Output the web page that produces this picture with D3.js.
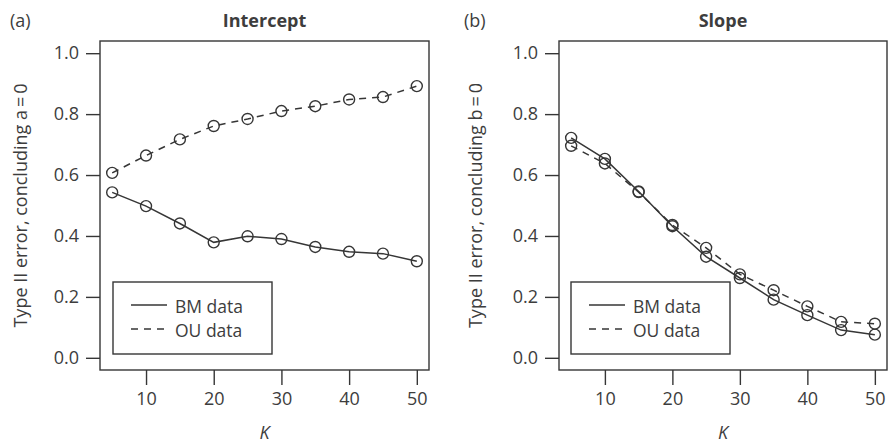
<!DOCTYPE html>
<html>
  <head>
    <meta charset="utf-8">
    <title>Type II error vs K</title>
    <script src="https://cdn.jsdelivr.net/npm/d3@7"></script>
    <style>
      body { margin: 0; background: #fff; }
      text { font-family: "Open Sans", "Noto Sans", sans-serif; fill: #3d3d3d; }
    </style>
  </head>
  <body>
    <script>
     // data ------------------------------------------------------------
     let kValues = [5, 10, 15, 20, 25, 30, 35, 40, 45, 50];
     let xTicks = [10, 20, 30, 40, 50];
     let yTicks = [0, 0.2, 0.4, 0.6, 0.8, 1.0];
     let seriesNames = ["BM data", "OU data"];

     let interceptBM = [0.543, 0.498, 0.441, 0.379, 0.399, 0.390, 0.364, 0.348, 0.342, 0.317];
     let interceptOU = [0.607, 0.664, 0.717, 0.761, 0.784, 0.810, 0.826, 0.848, 0.856, 0.892];
     let slopeBM = [0.722, 0.653, 0.546, 0.432, 0.332, 0.262, 0.191, 0.140, 0.091, 0.076];
     let slopeOU = [0.696, 0.638, 0.544, 0.436, 0.361, 0.274, 0.222, 0.169, 0.118, 0.112];

     // canvas ----------------------------------------------------------
     let w = 889, h = 444;
     let ink = "#363636";
     let fs = 18;

     let svg = d3.select("body").append("svg")
                 .attr("width", w)
                 .attr("height", h)
                 .style("display", "block");

     function drawPanel(opts) {
       let box = opts.box;  // left, top, right, bottom of the plot frame
       let xScale = d3.scaleLinear()
                      .domain([3.2, 51.8])
                      .range([box.left, box.right]);
       let yScale = d3.scaleLinear()
                      .domain([-0.04, 1.04])
                      .range([box.bottom, box.top]);

       let g = svg.append("g");

       // frame
       g.append("rect")
        .attr("x", box.left)
        .attr("y", box.top)
        .attr("width", box.right - box.left)
        .attr("height", box.bottom - box.top)
        .attr("fill", "none")
        .attr("stroke", ink)
        .attr("stroke-width", 1.4);

       // axes (R style: ticks only, the frame acts as axis line)
       let xAxis = d3.axisBottom(xScale)
                     .tickValues(xTicks)
                     .tickSize(15)
                     .tickPadding(7)
                     .tickFormat(d3.format("d"));
       let gx = g.append("g")
                 .attr("transform", "translate(0, " + box.bottom + ")")
                 .call(xAxis);
       let yAxis = d3.axisLeft(yScale)
                     .tickValues(yTicks)
                     .tickSize(14)
                     .tickPadding(7)
                     .tickFormat(d3.format(".1f"));
       let gy = g.append("g")
                 .attr("transform", "translate(" + box.left + ", 0)")
                 .call(yAxis);
       [gx, gy].forEach((a) => {
         a.select(".domain").remove();
         a.selectAll(".tick line").attr("stroke", ink).attr("stroke-width", 1.4);
         a.selectAll(".tick text")
          .attr("font-size", fs)
          .attr("fill", "#3d3d3d")
          .style("font-family", "'Open Sans', sans-serif");
       });

       // series
       let line = d3.line()
                    .x((d, i) => xScale(kValues[i]))
                    .y((d) => yScale(d));
       opts.series.forEach((s, si) => {
         g.append("path")
          .datum(s)
          .attr("d", line)
          .attr("fill", "none")
          .attr("stroke", ink)
          .attr("stroke-width", 1.5)
          .attr("stroke-dasharray", si === 1 ? "7,6" : null);
         g.selectAll(".pt" + si)
          .data(s)
          .enter()
          .append("circle")
          .attr("cx", (d, i) => xScale(kValues[i]))
          .attr("cy", (d) => yScale(d))
          .attr("r", 5.5)
          .attr("fill", "none")
          .attr("stroke", ink)
          .attr("stroke-width", 1.4);
       });

       // titles
       g.append("text")
        .attr("x", (box.left + box.right) / 2)
        .attr("y", 27)
        .attr("text-anchor", "middle")
        .attr("font-size", fs)
        .attr("font-weight", "bold")
        .text(opts.title);
       g.append("text")
        .attr("x", opts.tagX)
        .attr("y", 27)
        .attr("font-size", fs)
        .text(opts.tag);
       g.append("text")
        .attr("x", (box.left + box.right) / 2)
        .attr("y", 439)
        .attr("text-anchor", "middle")
        .attr("font-size", fs)
        .attr("font-style", "italic")
        .text("K");
       g.append("text")
        .attr("transform", "translate(" + opts.yLabelX + ", " + (box.top + box.bottom) / 2 + ") rotate(-90)")
        .attr("text-anchor", "middle")
        .attr("font-size", fs)
        .text(opts.yLabel);

       // legend
       let lg = opts.legend;
       g.append("rect")
        .attr("x", lg.x)
        .attr("y", 282)
        .attr("width", 159)
        .attr("height", 72)
        .attr("fill", "white")
        .attr("stroke", ink)
        .attr("stroke-width", 1.4);
       seriesNames.forEach((name, i) => {
         let yy = 305 + i * 24;
         g.append("line")
          .attr("x1", lg.x + 18)
          .attr("x2", lg.x + 54)
          .attr("y1", yy)
          .attr("y2", yy)
          .attr("stroke", ink)
          .attr("stroke-width", 1.5)
          .attr("stroke-dasharray", i === 1 ? "7,6" : null);
         g.append("text")
          .attr("x", lg.x + 62)
          .attr("y", yy + 8)
          .attr("font-size", 17.5)
          .text(name);
       });
     }

     drawPanel({
       box: {left: 100, top: 41, right: 429, bottom: 370},
       series: [interceptBM, interceptOU],
       title: "Intercept",
       tag: "(a)",
       tagX: 10,
       yLabel: "Type II error, concluding a\u2009=\u20090",
       yLabelX: 27,
       legend: {x: 113}
     });
     drawPanel({
       box: {left: 559, top: 41, right: 887, bottom: 370},
       series: [slopeBM, slopeOU],
       title: "Slope",
       tag: "(b)",
       tagX: 464,
       yLabel: "Type II error, concluding b\u2009=\u20090",
       yLabelX: 482,
       legend: {x: 571}
     });
    </script>
  </body>
</html>
